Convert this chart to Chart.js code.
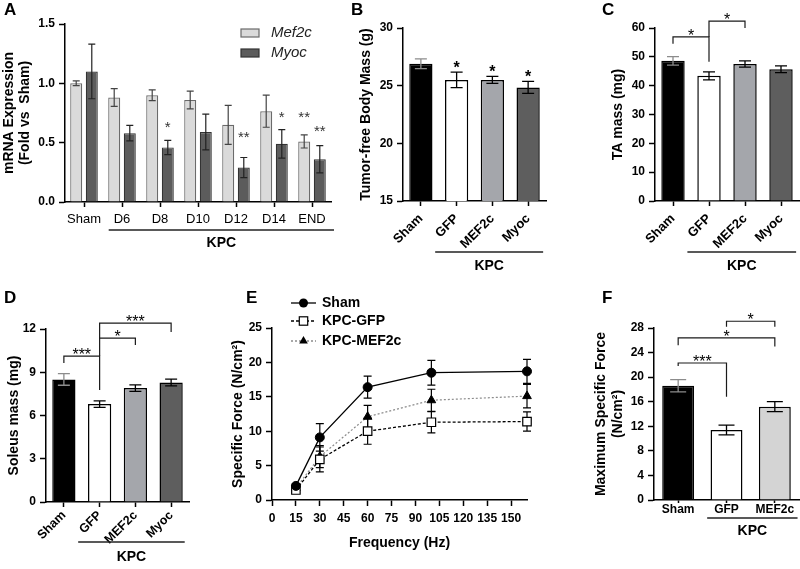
<!DOCTYPE html>
<html><head><meta charset="utf-8">
<script src="https://cdn.jsdelivr.net/npm/chart.js@4.4.1/dist/chart.umd.min.js"></script>
<style>
html,body{margin:0;padding:0;background:#fff;}
#wrap{position:relative;width:800px;height:569px;overflow:hidden;background:#fff}
canvas{position:absolute;left:0;top:0;}
</style></head><body><div id="wrap">
<canvas id="cA" width="800" height="569"></canvas>
<canvas id="cB" width="800" height="569"></canvas>
<canvas id="cC" width="800" height="569"></canvas>
<canvas id="cD" width="800" height="569"></canvas>
<canvas id="cE" width="800" height="569"></canvas>
<canvas id="cF" width="800" height="569"></canvas>
</div>
<script>
// ---------------- DATA ----------------
// Panel A
const aCategories = ['Sham','D6','D8','D10','D12','D14','END'];
const aMef2c      = [1.00, 0.88, 0.90, 0.86, 0.65, 0.765, 0.51];
const aMef2cErr   = [0.02, 0.075, 0.045, 0.075, 0.165, 0.135, 0.055];
const aMyoc       = [1.10, 0.58, 0.46, 0.59, 0.29, 0.49, 0.36];
const aMyocErr    = [0.23, 0.065, 0.06, 0.15, 0.085, 0.12, 0.115];
const aMef2cStars = ['', '', '', '', '', '', '**'];
const aMef2cStarY = [null, null, null, null, null, null, 0.75];
const aMyocStars  = ['', '', '*', '', '**', '*', '**'];
const aMyocStarY  = [null, null, 0.66, null, 0.58, 0.75, 0.63];
const aYTicks     = [0, 0.5, 1.0, 1.5];

// Panels B-D share groups
const groups4 = ['Sham','GFP','MEF2c','Myoc'];
// Panel B
const bValues = [26.9, 25.5, 25.5, 24.85];
const bErr    = [0.43, 0.67, 0.3, 0.52];
const bStars  = ['', '*', '*', '*'];
const bYTicks = [15, 20, 25, 30];
// Panel C
const cValues = [48.6, 43.4, 47.5, 45.7];
const cErr    = [1.5, 1.4, 1.1, 1.15];
const cYTicks = [0, 10, 20, 30, 40, 50, 60];
const cBrackets = [
  {from:0, to:1, top:56.9, dropL:54.5, dropR:48.3, label:'*'},
  {from:1, to:2, top:62.4, dropL:56.9, dropR:60.0, label:'*'}
];
// Panel D
const dValues = [8.5, 6.79, 7.9, 8.29];
const dErr    = [0.4, 0.23, 0.23, 0.23];
const dYTicks = [0, 3, 6, 9, 12];
const dBrackets = [
  {from:1, to:3, top:12.41, dropL:11.37, dropR:11.79, label:'***'},
  {from:1, to:2, top:11.37, dropL:10.12, dropR:10.89, label:'*'},
  {from:0, to:1, top:10.12, dropL:9.64, dropR:7.77, label:'***'}
];
// Panel E
const eFreq     = [15, 30, 60, 100, 160];
const eSham     = [2.05, 9.1, 16.4, 18.5, 18.7];
const eShamErr  = [0.35, 2.0, 1.6, 1.8, 1.75];
const eGFP      = [1.45, 5.9, 10.0, 11.3, 11.4];
const eGFPErr   = [0.3, 1.8, 1.9, 1.55, 1.4];
const eMEF      = [1.75, 6.3, 12.1, 14.5, 15.1];
const eMEFErr   = [0.3, 1.6, 1.65, 1.6, 1.7];
const eXTicks   = [0, 15, 30, 45, 60, 75, 90, 105, 120, 135, 150];
const eYTicks   = [0, 5, 10, 15, 20, 25];
// Panel F
const fCategories = ['Sham','GFP','MEF2c'];
const fValues = [18.6, 11.4, 15.2];
const fErr    = [1.0, 0.8, 0.8];
const fYTicks = [0, 4, 8, 12, 16, 20, 24, 28];
const fBrackets = [
  {from:1, to:2, top:29.1, dropL:28.2, dropR:28.2, label:'*'},
  {from:0, to:2, top:26.4, dropL:25.2, dropR:25.0, label:'*'},
  {from:0, to:1, top:22.3, dropL:21.8, dropR:16.8, label:'***'}
];

// ---------------- HELPERS ----------------
const FONT = "'Liberation Sans', Arial, Helvetica, sans-serif";
Chart.defaults.font.family = FONT;
Chart.defaults.color = '#000';

function txt(ctx, s, x, y, font, align, baseline, color){
  ctx.save(); ctx.font = font; ctx.fillStyle = color || '#000';
  ctx.textAlign = align || 'center'; ctx.textBaseline = baseline || 'middle';
  ctx.fillText(s, x, y); ctx.restore();
}
function star(ctx, s, x, cy, size, weight, color){
  txt(ctx, s, x, cy + 0.585*size, (weight||'normal') + ' ' + size + 'px ' + FONT, 'center', 'alphabetic', color || '#000');
}
function drawErr(chart, opts){
  const ctx = chart.ctx, ys = chart.scales.y;
  chart.data.datasets.forEach((ds, i) => {
    if (!ds.errors) return;
    const meta = chart.getDatasetMeta(i);
    meta.data.forEach((el, j) => {
      const raw = ds.data[j]; const v = (typeof raw === 'object') ? raw.y : raw;
      const e = ds.errors[j]; if (!e) return;
      const x = el.x, yt = ys.getPixelForValue(v + e), yb = ys.getPixelForValue(v - e), hw = opts.cap || 5;
      ctx.save();
      ctx.strokeStyle = (ds.errorColors ? ds.errorColors[j] : ds.errorColor) || '#000';
      ctx.lineWidth = opts.width || 1.3;
      ctx.setLineDash([]);
      ctx.beginPath();
      ctx.moveTo(x, yt); ctx.lineTo(x, yb);
      ctx.moveTo(x - hw, yt); ctx.lineTo(x + hw, yt);
      ctx.moveTo(x - hw, yb); ctx.lineTo(x + hw, yb);
      ctx.stroke(); ctx.restore();
    });
  });
}
const errPlugin = {
  id: 'errbars',
  beforeDatasetsDraw(chart, a, opts){ if (opts.behind) drawErr(chart, opts); },
  afterDatasetsDraw(chart, a, opts){ if (!opts.behind) drawErr(chart, opts); }
};
function annot(fn){ return { id: 'annot', afterDraw(chart){ const ctx = chart.ctx; ctx.save(); fn(chart, ctx); ctx.restore(); } }; }
function letter(ctx, s, x, y){ txt(ctx, s, x, y, 'bold 17px ' + FONT, 'left', 'alphabetic'); }
function brackets(chart, ctx, list, size){
  const xs = chart.scales.x, ys = chart.scales.y;
  list.forEach(b => {
    const x1 = xs.getPixelForValue(b.from), x2 = xs.getPixelForValue(b.to);
    const yt = ys.getPixelForValue(b.top), yl = ys.getPixelForValue(b.dropL), yr = ys.getPixelForValue(b.dropR);
    ctx.save(); ctx.strokeStyle = '#1a1a1a'; ctx.lineWidth = 1.2;
    ctx.beginPath(); ctx.moveTo(x1, yl); ctx.lineTo(x1, yt); ctx.lineTo(x2, yt); ctx.lineTo(x2, yr); ctx.stroke();
    ctx.restore();
    star(ctx, b.label, (x1 + x2)/2, yt - 5.5, size);
  });
}
function kpc(chart, ctx, i0, f0, i1, f1, lineY, textY){
  const xs = chart.scales.x;
  const step = xs.getPixelForValue(1) - xs.getPixelForValue(0);
  const xa = xs.getPixelForValue(i0) - f0*step, xb = xs.getPixelForValue(i1) + f1*step;
  ctx.save(); ctx.strokeStyle = '#222'; ctx.lineWidth = 1.3;
  ctx.beginPath(); ctx.moveTo(xa, lineY); ctx.lineTo(xb, lineY); ctx.stroke(); ctx.restore();
  txt(ctx, 'KPC', (xa + xb)/2, textY, 'bold 14px ' + FONT, 'center', 'middle');
}
function axisCommon(tickLen){
  return {
    grid: {drawOnChartArea:false, drawTicks:true, tickLength:tickLen, tickWidth:1.5, tickColor:'#000', offset:false},
    border: {display:true, color:'#000', width:1.5}
  };
}
function yAxis(min, max, ticks, yW, title, fmt){
  return Object.assign(axisCommon(6), {
    min, max,
    afterBuildTicks: s => { s.ticks = ticks.map(v => ({value:v})); },
    afterFit: s => { s.width = yW; },
    ticks: {font:{size:12, weight:'bold'}, color:'#000', padding:4, callback: v => fmt ? fmt(v) : String(v)},
    title: {display:true, text:title, color:'#000', font:{size:14, weight:'bold', lineHeight:1.15}, padding:{top:0, bottom:0}}
  });
}
function catAxis(xH, rot, font, tickLen, pad){
  return Object.assign(axisCommon(tickLen), {
    type:'category', offset:true,
    afterFit: s => { s.height = xH; },
    ticks: {font: font, color:'#000', padding: pad, minRotation:rot, maxRotation:rot, autoSkip:false}
  });
}
function base(area, yW, xH){
  return {
    responsive:false, animation:false, devicePixelRatio:1, events:[],
    layout:{padding:{left: area.left - yW, top: area.top, right: 800 - area.right, bottom: 569 - area.bottom - xH}},
    plugins:{legend:{display:false}, tooltip:{enabled:false}}
  };
}
const areaA = {left:65, right:331, top:24, bottom:202};
const areaB = {left:403, right:546, top:28, bottom:201};
const areaC = {left:655, right:799, top:28, bottom:201};
const areaD = {left:46, right:189, top:329, bottom:502};
const areaE = {left:272, right:527, top:328, bottom:500};
const areaF = {left:654, right:799, top:328, bottom:500};
const fill4 = ['#000000', '#ffffff', '#a4a6ab', '#5e5e5e'];
const errCol4 = ['#8c8c8c', '#000', '#000', '#000'];

// ---------------- PANEL A ----------------
(function(){
  const o = base(areaA, 64, 30);
  o.scales = {
    x: catAxis(30, 0, {size:13, weight:'normal'}, 5, 5),
    y: yAxis(0, 1.5, aYTicks, 64, ['mRNA Expression', '(Fold vs  Sham)'], v => v.toFixed(1))
  };
  o.plugins.errbars = {cap:3.5, width:1.2};
  new Chart(document.getElementById('cA'), {
    type:'bar',
    data:{labels:aCategories, datasets:[
      {label:'Mef2c', data:aMef2c, errors:aMef2cErr, errorColor:'#444', backgroundColor:'#dadada', borderColor:'#6a6a6a', borderWidth:1.2, categoryPercentage:0.82, barPercentage:0.77},
      {label:'Myoc', data:aMyoc, errors:aMyocErr, errorColor:'#222', backgroundColor:'#5c5c5c', borderColor:'#333', borderWidth:1.2, categoryPercentage:0.82, barPercentage:0.77}
    ]},
    options:o,
    plugins:[errPlugin, annot((chart, ctx) => {
      letter(ctx, 'A', 4, 15);
      const ys = chart.scales.y;
      [[0, aMef2cStars, aMef2cStarY], [1, aMyocStars, aMyocStarY]].forEach(([di, st, sy]) => {
        const meta = chart.getDatasetMeta(di);
        st.forEach((s, j) => { if (s) star(ctx, s, meta.data[j].x, ys.getPixelForValue(sy[j]), 15, 'normal', '#333'); });
      });
      kpc(chart, ctx, 1, 0.35, 6, 0.58, 230, 243);
      // legend
      ctx.fillStyle = '#dadada'; ctx.strokeStyle = '#6a6a6a'; ctx.lineWidth = 1.2;
      ctx.fillRect(241, 29, 18, 8); ctx.strokeRect(241, 29, 18, 8);
      ctx.fillStyle = '#5c5c5c'; ctx.strokeStyle = '#333';
      ctx.fillRect(241, 49, 18, 8); ctx.strokeRect(241, 49, 18, 8);
      txt(ctx, 'Mef2c', 271, 33, 'italic 15px ' + FONT, 'left', 'middle', '#222');
      txt(ctx, 'Myoc', 271, 53, 'italic 15px ' + FONT, 'left', 'middle', '#222');
    })]
  });
})();

// ---------------- PANEL B ----------------
(function(){
  const o = base(areaB, 45, 60);
  o.scales = {
    x: catAxis(60, 45, {size:13, weight:'bold'}, 5, 5),
    y: yAxis(15, 30, bYTicks, 45, 'Tumor-free Body Mass (g)')
  };
  o.plugins.errbars = {cap:6, width:1.3};
  new Chart(document.getElementById('cB'), {
    type:'bar',
    data:{labels:groups4, datasets:[
      {data:bValues, errors:bErr, errorColors:errCol4, backgroundColor:fill4, borderColor:'#000', borderWidth:1.5, categoryPercentage:1, barPercentage:0.65}
    ]},
    options:o,
    plugins:[errPlugin, annot((chart, ctx) => {
      letter(ctx, 'B', 351, 15);
      const ys = chart.scales.y, meta = chart.getDatasetMeta(0);
      bStars.forEach((s, j) => { if (s) star(ctx, s, meta.data[j].x, ys.getPixelForValue(bValues[j] + bErr[j]) - 9, 16, 'bold'); });
      kpc(chart, ctx, 1, 0.6, 3, 0.42, 252, 266);
    })]
  });
})();

// ---------------- PANEL C ----------------
(function(){
  const o = base(areaC, 45, 60);
  o.scales = {
    x: catAxis(60, 45, {size:13, weight:'bold'}, 5, 5),
    y: yAxis(0, 60, cYTicks, 45, 'TA mass (mg)')
  };
  o.plugins.errbars = {cap:6, width:1.3};
  new Chart(document.getElementById('cC'), {
    type:'bar',
    data:{labels:groups4, datasets:[
      {data:cValues, errors:cErr, errorColors:errCol4, backgroundColor:fill4, borderColor:'#000', borderWidth:1.5, categoryPercentage:1, barPercentage:0.65}
    ]},
    options:o,
    plugins:[errPlugin, annot((chart, ctx) => {
      letter(ctx, 'C', 602, 15);
      brackets(chart, ctx, cBrackets, 16);
      kpc(chart, ctx, 1, 0.6, 3, 0.42, 252, 266);
    })]
  });
})();

// ---------------- PANEL D ----------------
(function(){
  const o = base(areaD, 40, 50);
  o.scales = {
    x: catAxis(50, 45, {size:12.5, weight:'bold'}, 5, 1),
    y: yAxis(0, 12, dYTicks, 40, 'Soleus mass (mg)')
  };
  o.plugins.errbars = {cap:6, width:1.3};
  new Chart(document.getElementById('cD'), {
    type:'bar',
    data:{labels:groups4, datasets:[
      {data:dValues, errors:dErr, errorColors:errCol4, backgroundColor:fill4, borderColor:'#000', borderWidth:1.5, categoryPercentage:1, barPercentage:0.65}
    ]},
    options:o,
    plugins:[errPlugin, annot((chart, ctx) => {
      letter(ctx, 'D', 4, 303);
      brackets(chart, ctx, dBrackets, 16);
      kpc(chart, ctx, 1, 0.6, 3, 0.38, 542, 557);
    })]
  });
})();

// ---------------- PANEL E ----------------
(function(){
  const xH = 51.4;
  const o = base(areaE, 42, xH);
  const xa = Object.assign(axisCommon(6), {
    type:'linear', min:0, max:160,
    afterBuildTicks: s => { s.ticks = eXTicks.map(v => ({value:v})); },
    afterFit: s => { s.height = xH; },
    ticks: {font:{size:12, weight:'bold'}, color:'#000', padding:5, autoSkip:false, maxRotation:0, minRotation:0},
    title: {display:true, text:'Frequency (Hz)', color:'#000', font:{size:14, weight:'bold'}, padding:{top:0, bottom:0}}
  });
  o.scales = { x: xa, y: yAxis(0, 25, eYTicks, 42, 'Specific Force (N/cm²)') };
  o.plugins.errbars = {cap:4, width:1.2, behind:true};
  const pts = arr => eFreq.map((f, i) => ({x:f, y:arr[i]}));
  new Chart(document.getElementById('cE'), {
    type:'line',
    data:{datasets:[
      {label:'Sham', data:pts(eSham), errors:eShamErr, errorColor:'#000', borderColor:'#000', borderWidth:1.3, pointStyle:'circle', pointRadius:4.5, pointBackgroundColor:'#000', pointBorderColor:'#000', pointBorderWidth:1, tension:0, fill:false, clip:false},
      {label:'KPC-GFP', data:pts(eGFP), errors:eGFPErr, errorColor:'#000', borderColor:'#000', borderDash:[3,2], borderWidth:1.3, pointStyle:'rect', pointRadius:6, pointBackgroundColor:'#fff', pointBorderColor:'#000', pointBorderWidth:1.2, tension:0, fill:false, clip:false},
      {label:'KPC-MEF2c', data:pts(eMEF), errors:eMEFErr, errorColor:'#000', borderColor:'#8c8c8c', borderDash:[2,2], borderWidth:1.2, pointStyle:'triangle', pointRadius:5, pointBackgroundColor:'#000', pointBorderColor:'#000', pointBorderWidth:1, tension:0, fill:false, clip:false}
    ]},
    options:o,
    plugins:[errPlugin, annot((chart, ctx) => {
      letter(ctx, 'E', 246, 303);
      const rows = [
        {y:303, text:'Sham', color:'#000', dash:[], marker:'circle'},
        {y:321, text:'KPC-GFP', color:'#000', dash:[3,2], marker:'rect'},
        {y:341, text:'KPC-MEF2c', color:'#8c8c8c', dash:[2,2], marker:'triangle'}
      ];
      rows.forEach(r => {
        ctx.save(); ctx.strokeStyle = r.color; ctx.lineWidth = 1.3; ctx.setLineDash(r.dash);
        ctx.beginPath(); ctx.moveTo(291, r.y); ctx.lineTo(316, r.y); ctx.stroke(); ctx.setLineDash([]);
        const cx = 303.5, cy = r.y;
        ctx.lineWidth = 1.2; ctx.strokeStyle = '#000';
        if (r.marker === 'circle') { ctx.fillStyle = '#000'; ctx.beginPath(); ctx.arc(cx, cy, 4.5, 0, Math.PI*2); ctx.fill(); }
        else if (r.marker === 'rect') { ctx.fillStyle = '#fff'; ctx.fillRect(cx-4.2, cy-4.2, 8.4, 8.4); ctx.strokeRect(cx-4.2, cy-4.2, 8.4, 8.4); }
        else { ctx.fillStyle = '#000'; const rr = 5; ctx.beginPath();
          for (let k = 0; k < 3; k++) { const a = k*2*Math.PI/3; const px = cx + Math.sin(a)*rr, py = cy - Math.cos(a)*rr; k ? ctx.lineTo(px, py) : ctx.moveTo(px, py); }
          ctx.closePath(); ctx.fill(); }
        ctx.restore();
        txt(ctx, r.text, 322, r.y, 'bold 14px ' + FONT, 'left', 'middle');
      });
    })]
  });
})();

// ---------------- PANEL F ----------------
(function(){
  const o = base(areaF, 61, 30);
  o.scales = {
    x: catAxis(30, 0, {size:12, weight:'bold'}, 3, -1),
    y: yAxis(0, 28, fYTicks, 61, ['Maximum Specific Force', '(N/cm²)'])
  };
  o.scales.y.title.font.lineHeight = 1.2;
  o.plugins.errbars = {cap:8, width:1.3};
  new Chart(document.getElementById('cF'), {
    type:'bar',
    data:{labels:fCategories, datasets:[
      {data:fValues, errors:fErr, errorColors:['#8c8c8c', '#000', '#000'], backgroundColor:['#000000', '#ffffff', '#d4d4d4'], borderColor:'#000', borderWidth:1.5, categoryPercentage:1, barPercentage:0.66}
    ]},
    options:o,
    plugins:[errPlugin, annot((chart, ctx) => {
      letter(ctx, 'F', 602, 303);
      brackets(chart, ctx, fBrackets, 16);
      kpc(chart, ctx, 1, 0.4, 2, 0.47, 518, 531);
    })]
  });
})();
</script>
</body></html>
